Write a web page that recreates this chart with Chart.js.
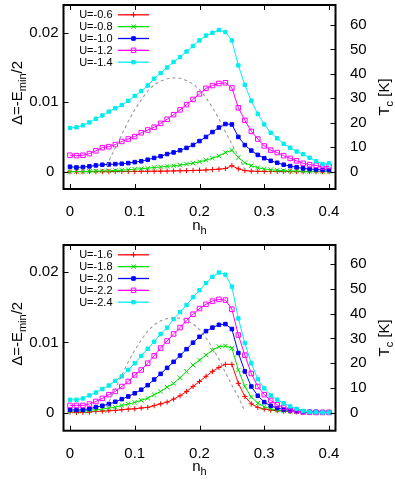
<!DOCTYPE html>
<html><head><meta charset="utf-8">
<script src="https://cdn.jsdelivr.net/npm/chart.js@4.4.1/dist/chart.umd.min.js"></script>
<style>
html,body{margin:0;padding:0;background:#fff;}
.w{position:absolute;left:0;width:395px;height:240px;}
canvas{display:block;}
</style>
</head><body>
<div class="w" style="top:0"><canvas id="c1" width="395" height="240"></canvas></div>
<div class="w" style="top:240px"><canvas id="c2" width="395" height="240"></canvas></div>
<script>
// ---------------- data ----------------
const nh = [0.00,0.01,0.02,0.03,0.04,0.05,0.06,0.07,0.08,0.09,0.10,0.11,0.12,0.13,0.14,0.15,0.16,0.17,0.18,0.19,0.20,
            0.21,0.22,0.23,0.24,0.25,0.26,0.27,0.28,0.29,0.30,0.31,0.32,0.33,0.34,0.35,0.36,0.37,0.38,0.39,0.40];
const xTicks = [0, 0.1, 0.2, 0.3, 0.4];
const yTicks = [0, 0.01, 0.02];
const y2Ticks = [0, 10, 20, 30, 40, 50, 60];

const labelsTop = ['U=-0.6','U=-0.8','U=-1.0','U=-1.2','U=-1.4'];
const labelsBottom = ['U=-1.6','U=-1.8','U=-2.0','U=-2.2','U=-2.4'];

const topU06 = [0,0,0,0,0,0,0.00001,0.00002,0.00002,0.00003,0.00003,0.00004,0.00005,0.00006,0.00007,0.00008,0.0001,0.00012,0.00014,0.00017,0.0002,
                0.00024,0.0003,0.00036,0.00045,0.00085,0.0004,0.00015,0.00007,0.00004,0.00003,0.00002,0.00002,0.00001,0.00001,0.00001,0,0,0,0,0];
const topU08 = [0,0.00002,0,0.00005,0.00008,0.0001,0.00012,0.00017,0.0002,0.00028,0.00035,0.00042,0.0005,0.0006,0.00066,0.00076,0.00085,0.00095,0.00109,0.00123,0.00142,
                0.00165,0.00194,0.00227,0.00274,0.00307,0.00203,0.00128,0.00085,0.00057,0.00038,0.00028,0.00019,0.00014,0.00009,0.00009,0.00005,0.00005,0.00005,0.00002,0.00002];
const topU10 = [0.00071,0.00061,0.00066,0.00076,0.0009,0.001,0.00104,0.00109,0.00114,0.00123,0.00137,0.0015,0.00172,0.00198,0.00222,0.00253,0.00277,0.00307,0.00342,0.00384,0.0044,
                0.005,0.0057,0.00635,0.00686,0.0068,0.005,0.00383,0.00303,0.00241,0.00194,0.00156,0.00128,0.001,0.0008,0.00063,0.00047,0.00038,0.0003,0.00026,0.00024];
const topU12 = [0.00236,0.0023,0.00236,0.0026,0.003,0.00345,0.0036,0.0039,0.00435,0.0047,0.00505,0.0056,0.006,0.0064,0.00695,0.00755,0.0082,0.0089,0.00965,0.0104,0.0112,
                0.012,0.0124,0.0127,0.0128,0.01205,0.0092,0.0074,0.0058,0.0047,0.0037,0.0031,0.00275,0.0023,0.0019,0.00155,0.0012,0.001,0.0009,0.00066,0.00075];
const topU14 = [0.00629,0.00638,0.00667,0.00709,0.00761,0.00809,0.00865,0.00913,0.0096,0.0102,0.0109,0.0116,0.0124,0.0134,0.0142,0.015,0.0158,0.0165,0.0173,0.0181,0.0189,
                0.0196,0.02,0.0204,0.0201,0.0189,0.0153,0.0125,0.0102,0.0083,0.0068,0.0056,0.0048,0.004,0.00345,0.0029,0.0025,0.002,0.0015,0.0011,0.0012];

const botU16 = [0.00014,0.00009,0.00009,0.00014,0.00023,0.00028,0.00032,0.00037,0.00047,0.00056,0.0006,0.00072,0.0008,0.00105,0.0013,0.00155,0.00197,0.00245,0.00306,0.00376,0.00447,
                0.0052,0.0059,0.00645,0.0069,0.0069,0.0042,0.00235,0.0013,0.0008,0.00056,0.00042,0.00032,0.00028,0.00023,0.00018,0.00014,0.00014,0.00009,0.00009,0.00009];
const botU18 = [0.00028,0.00023,0.00028,0.00037,0.00047,0.00056,0.0007,0.00084,0.00108,0.00127,0.0015,0.0018,0.0021,0.0026,0.00306,0.00367,0.0042,0.005,0.0059,0.0068,0.0075,
                0.0082,0.0089,0.0094,0.0095,0.0092,0.0061,0.00376,0.00226,0.0014,0.00089,0.0006,0.00042,0.00032,0.00023,0.00018,0.00014,0.00014,0.00009,0.00009,0.00009];
const botU20 = [0.00047,0.00042,0.00047,0.0006,0.00084,0.00103,0.00127,0.0016,0.00197,0.00235,0.0028,0.0033,0.00395,0.00475,0.00555,0.0064,0.00725,0.00815,0.00905,0.00997,0.0108,
                0.0116,0.0121,0.0125,0.0126,0.0119,0.0085,0.0059,0.00376,0.00245,0.00155,0.00103,0.0007,0.00051,0.00037,0.00028,0.00023,0.00018,0.00018,0.00014,0.00014];
const botU22 = [0.00108,0.00108,0.00108,0.00127,0.00164,0.00207,0.0026,0.00306,0.00376,0.00447,0.0054,0.0061,0.00706,0.0081,0.0092,0.0102,0.0112,0.0121,0.0131,0.014,0.0148,
                0.0154,0.01585,0.0161,0.016,0.0147,0.01105,0.0082,0.0056,0.00376,0.0026,0.0018,0.00117,0.0008,0.0005,0.0003,0.00015,0.0001,0.00008,0.00008,0.00008];
const botU24 = [0.00188,0.00188,0.00207,0.0025,0.0029,0.0034,0.0039,0.00455,0.0052,0.0061,0.00705,0.0081,0.0091,0.0101,0.0112,0.0121,0.0133,0.0143,0.0153,0.0164,0.0174,
                0.0184,0.0193,0.0199,0.0196,0.0179,0.0134,0.0099,0.00705,0.0048,0.0035,0.0025,0.0019,0.0014,0.00094,0.0006,0.0003,0.00015,0.0001,0.00008,0.00008];

// experimental Tc dome (right axis, K)
const domeX  = [0.055,0.06,0.07,0.08,0.09,0.10,0.11,0.12,0.13,0.14,0.15,0.16,0.17,0.18,0.19,0.20,0.21,0.22,0.23,0.24,0.25,0.26,0.27];
const domeTc = [0,4.4,9.8,15.2,20.6,25.3,29.4,33.0,35.5,37.1,38.0,38.4,38.2,37.3,35.9,33.6,30.3,26.3,21.7,16.3,11.2,6.5,0.8];

// ---------------- styles ----------------
const FONT = "'Liberation Sans', Arial, Helvetica, sans-serif";
const colors = ['#ff0000', '#00dd00', '#0000ff', '#ff00ff', '#00eeee'];
const marks = [
  {style:'cross',    r:2.6, fill:false},
  {style:'crossRot', r:3.2, fill:false},
  {style:'rect',     r:2.5, fill:true},
  {style:'rect',     r:3.2, fill:false},
  {style:'rect',     r:2.4, fill:true}
];

function drawMarker(ctx, m, x, y, color){
  ctx.save();
  ctx.strokeStyle = color; ctx.fillStyle = color; ctx.lineWidth = 1;
  ctx.beginPath();
  if (m.style === 'cross'){
    ctx.moveTo(x - m.r, y); ctx.lineTo(x + m.r, y);
    ctx.moveTo(x, y - m.r); ctx.lineTo(x, y + m.r);
    ctx.stroke();
  } else if (m.style === 'crossRot'){
    const d = m.r * Math.SQRT1_2;
    ctx.moveTo(x - d, y - d); ctx.lineTo(x + d, y + d);
    ctx.moveTo(x - d, y + d); ctx.lineTo(x + d, y - d);
    ctx.stroke();
  } else {
    const s = m.r * Math.SQRT1_2;
    ctx.rect(x - s, y - s, 2 * s, 2 * s);
    if (m.fill) ctx.fill();
    ctx.stroke();
  }
  ctx.restore();
}

function drawRich(ctx, parts, x, y, rotate){
  ctx.save();
  ctx.translate(x, y);
  if (rotate) ctx.rotate(-Math.PI / 2);
  ctx.fillStyle = '#000';
  ctx.textBaseline = 'alphabetic';
  ctx.textAlign = 'left';
  let total = 0;
  for (const p of parts){ ctx.font = p.size + 'px ' + FONT; total += ctx.measureText(p.t).width; }
  let cx = -total / 2;
  for (const p of parts){
    ctx.font = p.size + 'px ' + FONT;
    ctx.fillText(p.t, cx, p.dy || 0);
    cx += ctx.measureText(p.t).width;
  }
  ctx.restore();
}

const gnuFrame = {
  id: 'gnuFrame',
  afterDraw(chart){
    const {ctx, chartArea: a, scales} = chart;
    const o = chart.options.plugins.gnuFrame;
    ctx.save();
    ctx.strokeStyle = '#000'; ctx.lineWidth = 1;
    ctx.beginPath();
    for (const v of xTicks){
      const p = Math.round(scales.x.getPixelForValue(v)) + 0.5;
      ctx.moveTo(p, a.bottom); ctx.lineTo(p, a.bottom - 5);
      ctx.moveTo(p, a.top); ctx.lineTo(p, a.top + 5);
    }
    for (const v of yTicks){
      const p = Math.round(scales.y.getPixelForValue(v)) + 0.5;
      ctx.moveTo(a.left, p); ctx.lineTo(a.left + 5, p);
    }
    for (const v of y2Ticks){
      const p = Math.round(scales.y2.getPixelForValue(v)) + 0.5;
      ctx.moveTo(a.right, p); ctx.lineTo(a.right - 5, p);
    }
    ctx.stroke();
    ctx.lineWidth = 2;
    ctx.strokeRect(a.left, a.top, a.right - a.left, a.bottom - a.top);
    ctx.restore();

    const cy = (a.top + a.bottom) / 2;
    drawRich(ctx, [{t:'n', size:15}, {t:'h', size:11, dy:4}], (a.left + a.right) / 2, a.bottom + 40.5, false);
    drawRich(ctx, [{t:'\u0394=-E', size:15}, {t:'min', size:11, dy:4}, {t:'/2', size:15}], 21.5, cy - 4, true);
    drawRich(ctx, [{t:'T', size:15}, {t:'c', size:11, dy:4}, {t:' [K]', size:15}], 388.5, cy, true);

    ctx.save();
    ctx.font = '11px ' + FONT;
    ctx.textAlign = 'right'; ctx.textBaseline = 'middle'; ctx.fillStyle = '#000';
    o.labels.forEach((lab, i) => {
      const y = a.top + 9.8 + i * 11.85;
      ctx.fillText(lab, 112.5, y + 0.5);
      ctx.strokeStyle = colors[i]; ctx.lineWidth = 1.3;
      ctx.beginPath(); ctx.moveTo(118, y); ctx.lineTo(149, y); ctx.stroke();
      drawMarker(ctx, marks[i], 133.5, y, colors[i]);
    });
    ctx.restore();
  }
};

function seriesDataset(xs, ys, i){
  const m = marks[i];
  return {
    data: xs.map((x, k) => ({x: x, y: ys[k]})),
    yAxisID: 'y',
    order: 5 - i,              // later series drawn on top (gnuplot order)
    borderColor: colors[i],
    backgroundColor: colors[i],
    borderWidth: 1,
    pointStyle: m.style,
    pointRadius: m.r,
    pointBorderColor: colors[i],
    pointBackgroundColor: m.fill ? colors[i] : 'rgba(0,0,0,0)',
    pointBorderWidth: 1,
    tension: 0,
    fill: false
  };
}

function domeDataset(){
  return {
    data: domeX.map((x, k) => ({x: x, y: domeTc[k]})),
    yAxisID: 'y2',
    order: 0,
    borderColor: '#9a9a9a',
    borderWidth: 1.1,
    borderDash: [3, 3],
    pointRadius: 0,
    tension: 0,
    fill: false
  };
}

function fmtTick(v){ return String(v); }
function noPad(s){ s.paddingTop = 0; s.paddingBottom = 0; s.paddingLeft = 0; s.paddingRight = 0; }

function makeChart(id, seriesList, labels, padTop, xHeight, yMax, y2Max){
  const datasets = seriesList.map((s, i) => seriesDataset(nh, s, i));
  datasets.push(domeDataset());
  const tickFont = {family: FONT, size: 15};
  return new Chart(document.getElementById(id), {
    type: 'line',
    data: {datasets},
    options: {
      responsive: false, animation: false, devicePixelRatio: 1,
      layout: {padding: {top: padTop, left: 0, right: 0, bottom: 0}},
      plugins: {legend: {display: false}, tooltip: {enabled: false}, gnuFrame: {labels}},
      scales: {
        x: {
          type: 'linear', position: 'bottom', min: -0.01, max: 0.41,
          grid: {display: false, drawTicks: false}, border: {display: false},
          afterBuildTicks: s => { s.ticks = xTicks.map(v => ({value: v})); },
          afterFit: s => { s.height = xHeight; noPad(s); },
          ticks: {padding: 14, color: '#000', font: tickFont, maxRotation: 0, autoSkip: false, callback: fmtTick}
        },
        y: {
          type: 'linear', position: 'left', min: -0.0025, max: yMax,
          grid: {display: false, drawTicks: false}, border: {display: false},
          afterBuildTicks: s => { s.ticks = yTicks.map(v => ({value: v})); },
          afterFit: s => { s.width = 63.5; noPad(s); },
          ticks: {padding: 5, color: '#000', font: tickFont, autoSkip: false, callback: v => v === 0 ? '0 ' : String(v)}
        },
        y2: {
          type: 'linear', position: 'right', min: -7.1, max: y2Max,
          grid: {display: false, drawTicks: false}, border: {display: false},
          afterBuildTicks: s => { s.ticks = y2Ticks.map(v => ({value: v})); },
          afterFit: s => { s.width = 59.5; noPad(s); },
          ticks: {padding: 14.5, color: '#000', font: tickFont, autoSkip: false, callback: fmtTick}
        }
      }
    },
    plugins: [gnuFrame]
  });
}

Chart.defaults.font.family = FONT;
makeChart('c1', [topU06, topU08, topU10, topU12, topU14], labelsTop, 1.7, 51, 0.024, 68.2);
makeChart('c2', [botU16, botU18, botU20, botU22, botU24], labelsBottom, 5, 49.3, 0.0238, 67.6);
</script>
</body></html>
